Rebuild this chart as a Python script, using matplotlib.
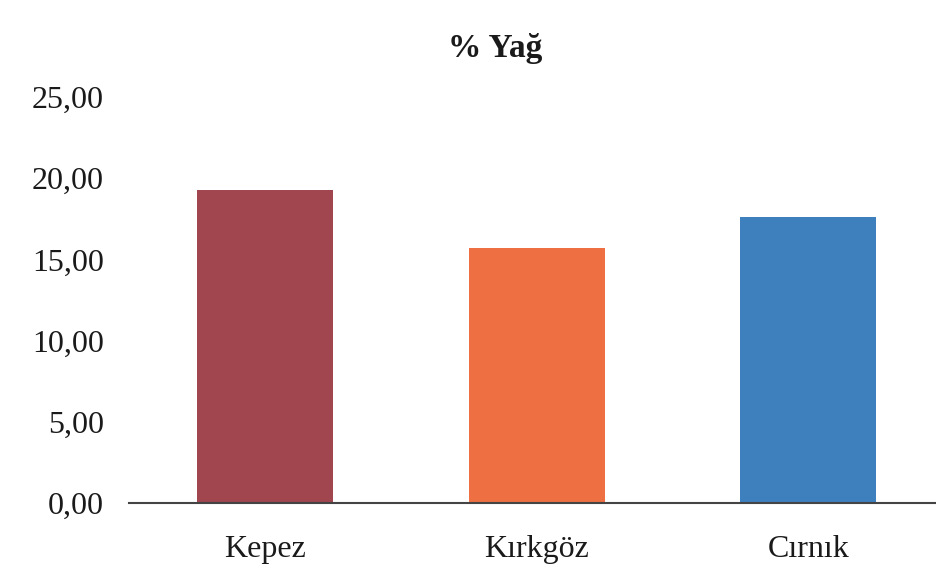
import matplotlib.pyplot as plt

plt.rcParams['font.family'] = ['Liberation Serif', 'DejaVu Serif']

kategoriler = ['Kepez', 'Kırkgöz', 'Cırnık']
yag = [19.3, 15.7, 17.6]
renkler = ['#A1454F', '#EE6F42', '#3E7FBE']
yticks = [0, 5, 10, 15, 20, 25]

fig = plt.figure(figsize=(9.36, 5.73), dpi=100)
ax = fig.add_axes([129/936, 70/573, 807/936, 406/573])

ax.bar(range(len(kategoriler)), yag, width=0.5, color=renkler)

ax.set_xlim(-0.5, 2.47)
ax.set_ylim(0, 25)
ax.set_yticks(yticks)
ax.set_yticklabels([('%.2f' % v).replace('.', ',') for v in yticks])
ax.set_xticks(range(len(kategoriler)))
ax.set_xticklabels(kategoriler)

for s in ['top', 'right', 'left']:
    ax.spines[s].set_visible(False)
ax.spines['bottom'].set_color('#444444')
ax.spines['bottom'].set_linewidth(1.5)

# yazilar taranmis gorselde biraz koyu
ax.tick_params(axis='y', length=0, pad=18, labelsize=23, labelcolor='#1a1a1a')
ax.tick_params(axis='x', length=0, pad=23, labelsize=23, labelcolor='#1a1a1a')

fig.text(495/936, 1 - 48/573, '% Yağ', ha='center', va='center',
         fontsize=24, fontweight='bold', color='#1a1a1a')

fig.savefig('out.png', dpi=100)
